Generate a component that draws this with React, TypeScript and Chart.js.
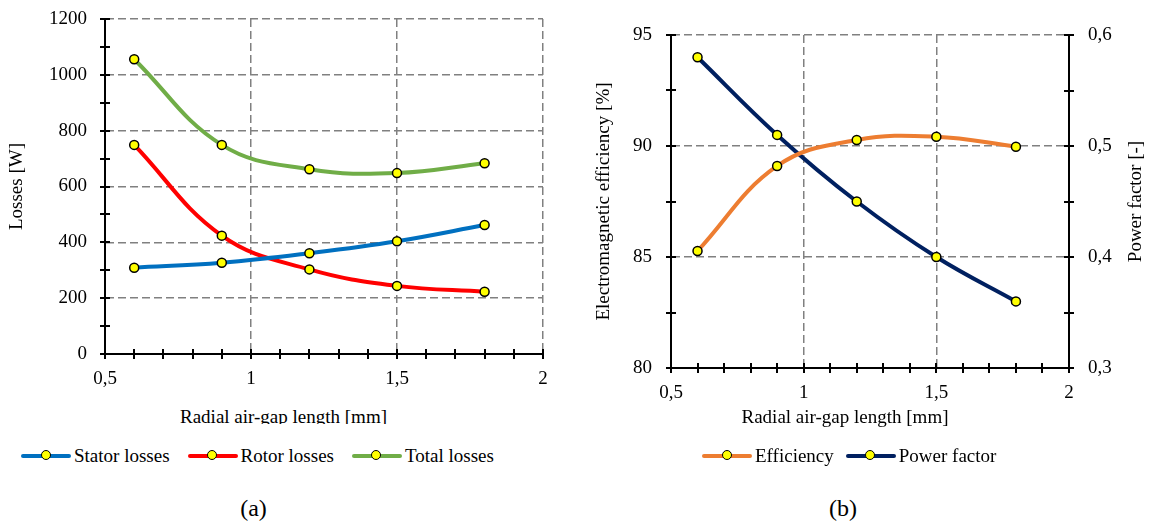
import React, { useEffect, useRef } from 'react';
import { Chart, registerables } from 'chart.js';

Chart.register(...registerables);

// ---------- data ----------
const gapLengths = [0.6, 0.9, 1.2, 1.5, 1.8];
const statorLosses = [309, 327, 361, 404, 462];
const rotorLosses = [749, 424, 303, 244, 223];
const totalLosses = [1056, 749, 662, 648, 683];
const efficiency = [85.27, 89.1, 90.27, 90.42, 89.97];
const powerFactor = [0.58, 0.51, 0.45, 0.4, 0.36];

const xTitle = 'Radial air-gap length [mm]';
const lossesTitle = 'Losses [W]';
const effTitle = 'Electromagnetic efficiency [%]';
const pfTitle = 'Power factor [-]';
const lossSeries = ['Stator losses', 'Rotor losses', 'Total losses'];
const perfSeries = ['Efficiency', 'Power factor'];
const captions = ['(a)', '(b)'];

// ---------- styles ----------
const FAMILY = '"Liberation Serif", "Times New Roman", serif';
const BLUE = '#0070C0';
const RED = '#FF0000';
const GREEN = '#70AD47';
const ORANGE = '#ED7D31';
const NAVY = '#002060';
const YELLOW = '#FFFF00';
const GRID = '#808080';
const tickFont = { family: FAMILY, size: 19, lineHeight: 1.2 };

const isMultiple = (v: number, step: number) =>
  Math.abs(v / step - Math.round(v / step)) < 1e-6;
const fmt = (v: number) => (Math.round(v * 100) / 100).toString().replace('.', ',');

const gridColor = (step: number, min: number) => (ctx: any) => {
  const v = ctx.tick ? ctx.tick.value : null;
  if (v == null) return 'transparent';
  return isMultiple(v, step) && Math.abs(v - min) > 1e-9 ? GRID : 'transparent';
};

const crossTicks = {
  id: 'crossTicks',
  afterDatasetsDraw(chart: any, _args: any, opts: any) {
    const ctx = chart.ctx;
    ctx.save();
    ctx.strokeStyle = '#000';
    ctx.lineWidth = 2;
    for (const id of opts.ids || []) {
      const s = chart.scales[id];
      if (!s) continue;
      for (const t of s.ticks) {
        const p = Math.round(s.getPixelForValue(t.value));
        ctx.beginPath();
        if (s.isHorizontal()) {
          ctx.moveTo(p, s.top - 5);
          ctx.lineTo(p, s.top + 5);
        } else if (s.position === 'left') {
          ctx.moveTo(s.right - 5, p);
          ctx.lineTo(s.right + 5, p);
        } else {
          ctx.moveTo(s.left - 5, p);
          ctx.lineTo(s.left + 5, p);
        }
        ctx.stroke();
      }
    }
    ctx.restore();
  },
};

const sideTitle = {
  id: 'sideTitle',
  afterDraw(chart: any, _args: any, opts: any) {
    if (!opts || !opts.text) return;
    const s = chart.scales[opts.scale];
    if (!s) return;
    const ctx = chart.ctx;
    ctx.save();
    ctx.font = `19px ${FAMILY}`;
    ctx.fillStyle = '#000';
    ctx.textAlign = 'center';
    ctx.textBaseline = 'middle';
    ctx.translate(s.right - opts.offset, (s.top + s.bottom) / 2);
    ctx.rotate(-Math.PI / 2);
    ctx.fillText(opts.text, 0, 0);
    ctx.restore();
  },
};

const series = (label: string, values: number[], color: string, axis: string) => ({
  label,
  data: gapLengths.map((x, i) => ({ x, y: values[i] })),
  borderColor: color,
  backgroundColor: YELLOW,
  borderWidth: 4,
  borderCapStyle: 'round',
  tension: 0.4,
  pointRadius: 4.5,
  pointBackgroundColor: YELLOW,
  pointBorderColor: '#000',
  pointBorderWidth: 1.5,
  yAxisID: axis,
});

// tick marks themselves are drawn by crossTicks; the (invisible) tick length
// only serves as the gap between axis line and tick labels.
const gapGrid = (step: number, min: number, gap: number) => ({
  color: gridColor(step, min),
  drawTicks: true,
  tickLength: gap,
  tickColor: 'transparent',
  lineWidth: 1.5,
});

const xScale = (h: number) => ({
  type: 'linear',
  position: 'bottom',
  min: 0.5,
  max: 2,
  ticks: {
    stepSize: 0.1,
    autoSkip: false,
    maxRotation: 0,
    padding: 0,
    font: tickFont,
    color: '#000',
    callback: (v: number) => (isMultiple(v, 0.5) ? fmt(v) : ''),
  },
  grid: gapGrid(0.5, 0.5, 14),
  border: { color: '#000', width: 2, dash: [8, 4] },
  afterFit: (s: any) => {
    s.height = h;
  },
});

const baseOptions = {
  responsive: false,
  animation: false,
  devicePixelRatio: 1,
  events: [],
};

function LegendMarker({ color }: { color: string }) {
  return (
    <span style={{ position: 'relative', display: 'inline-block', width: 50, height: 19, marginRight: 3 }}>
      <span style={{ position: 'absolute', left: 0, right: 0, top: 7.5, height: 4, borderRadius: 2, background: color }} />
      <span
        style={{
          position: 'absolute',
          left: 19.5,
          top: 4,
          width: 8,
          height: 8,
          borderRadius: '50%',
          background: YELLOW,
          border: '1.5px solid #000',
        }}
      />
    </span>
  );
}

function Legend({ items, colors, left, gap }: { items: string[]; colors: string[]; left: number; gap: number }) {
  return (
    <div
      style={{
        position: 'absolute',
        left,
        top: 446,
        display: 'flex',
        gap,
        fontSize: 19,
        lineHeight: '19px',
        whiteSpace: 'nowrap',
      }}
    >
      {items.map((t, i) => (
        <span key={t} style={{ display: 'inline-flex', alignItems: 'center' }}>
          <LegendMarker color={colors[i]} />
          <span>{t}</span>
        </span>
      ))}
    </div>
  );
}

export default function App() {
  const leftRef = useRef<HTMLCanvasElement>(null);
  const rightRef = useRef<HTMLCanvasElement>(null);

  useEffect(() => {
    document.body.style.margin = '0';
    const left = new Chart(leftRef.current as HTMLCanvasElement, {
      type: 'line',
      data: {
        datasets: [
          series(lossSeries[0], statorLosses, BLUE, 'y'),
          series(lossSeries[1], rotorLosses, RED, 'y'),
          series(lossSeries[2], totalLosses, GREEN, 'y'),
        ],
      },
      options: {
        ...baseOptions,
        layout: { padding: { top: 19, right: 33, bottom: 0, left: 0 } },
        plugins: {
          legend: { display: false },
          tooltip: { enabled: false },
          crossTicks: { ids: ['x', 'y'] },
        },
        scales: {
          x: xScale(46),
          y: {
            type: 'linear',
            position: 'left',
            min: 0,
            max: 1200,
            ticks: {
              stepSize: 100,
              autoSkip: false,
              padding: 0,
              font: tickFont,
              color: '#000',
              callback: (v: number) => (isMultiple(v, 200) ? String(v) : ''),
            },
            grid: gapGrid(200, 0, 18),
            border: { color: '#000', width: 2, dash: [8, 4] },
            title: { display: true, text: lossesTitle, font: tickFont, color: '#000', padding: { top: 5.6, bottom: 0 } },
            afterFit: (s: any) => {
              s.width = 105;
            },
          },
        },
      } as any,
      plugins: [crossTicks],
    } as any);

    const right = new Chart(rightRef.current as HTMLCanvasElement, {
      type: 'line',
      data: {
        datasets: [
          series(perfSeries[0], efficiency, ORANGE, 'y'),
          series(perfSeries[1], powerFactor, NAVY, 'y1'),
        ],
      },
      options: {
        ...baseOptions,
        layout: { padding: { top: 35, right: 0, bottom: 0, left: 0 } },
        plugins: {
          legend: { display: false },
          tooltip: { enabled: false },
          crossTicks: { ids: ['x', 'y', 'y1'] },
          sideTitle: { scale: 'y1', text: pfTitle, offset: 16.5 },
        },
        scales: {
          x: xScale(52),
          y: {
            type: 'linear',
            position: 'left',
            min: 80,
            max: 95,
            ticks: {
              stepSize: 2.5,
              autoSkip: false,
              padding: 0,
              font: tickFont,
              color: '#000',
              callback: (v: number) => (isMultiple(v, 5) ? String(v) : ''),
            },
            grid: gapGrid(5, 80, 19),
            border: { color: '#000', width: 2, dash: [8, 4] },
            title: { display: true, text: effTitle, font: tickFont, color: '#000', padding: { top: 16.6, bottom: 0 } },
            afterFit: (s: any) => {
              s.width = 95;
            },
          },
          y1: {
            type: 'linear',
            position: 'right',
            min: 0.3,
            max: 0.6,
            ticks: {
              stepSize: 0.05,
              autoSkip: false,
              padding: 0,
              font: tickFont,
              color: '#000',
              callback: (v: number) => (isMultiple(v, 0.1) ? fmt(v) : ''),
            },
            grid: { drawOnChartArea: false, drawTicks: true, tickLength: 19, tickColor: 'transparent', color: 'transparent' },
            border: { color: '#000', width: 2 },
            afterFit: (s: any) => {
              s.width = 84;
            },
          },
        },
      } as any,
      plugins: [crossTicks, sideTitle],
    } as any);

    return () => {
      left.destroy();
      right.destroy();
    };
  }, []);

  const text = { position: 'absolute' as const, fontSize: 19, lineHeight: '19px', whiteSpace: 'nowrap' as const };

  return (
    <div
      style={{
        position: 'absolute',
        left: 0,
        top: 0,
        width: 1153,
        height: 522,
        background: '#fff',
        color: '#000',
        fontFamily: FAMILY,
        overflow: 'hidden',
      }}
    >
      <canvas ref={leftRef} width={576} height={400} style={{ position: 'absolute', left: 0, top: 0, width: 576, height: 400 }} />
      <canvas ref={rightRef} width={577} height={420} style={{ position: 'absolute', left: 576, top: 0, width: 577, height: 420 }} />

      <div style={{ ...text, left: 133.5, width: 300, top: 407, height: 17, overflow: 'hidden', textAlign: 'center' }}>{xTitle}</div>
      <div style={{ ...text, left: 695, width: 300, top: 407, textAlign: 'center' }}>{xTitle}</div>

      <Legend items={lossSeries} colors={[BLUE, RED, GREEN]} left={21} gap={18} />
      <Legend items={perfSeries} colors={[ORANGE, NAVY]} left={702} gap={12} />

      <div style={{ position: 'absolute', left: 203.5, width: 100, top: 496, fontSize: 24, lineHeight: '24px', textAlign: 'center' }}>
        {captions[0]}
      </div>
      <div style={{ position: 'absolute', left: 793, width: 100, top: 496, fontSize: 24, lineHeight: '24px', textAlign: 'center' }}>
        {captions[1]}
      </div>
    </div>
  );
}
